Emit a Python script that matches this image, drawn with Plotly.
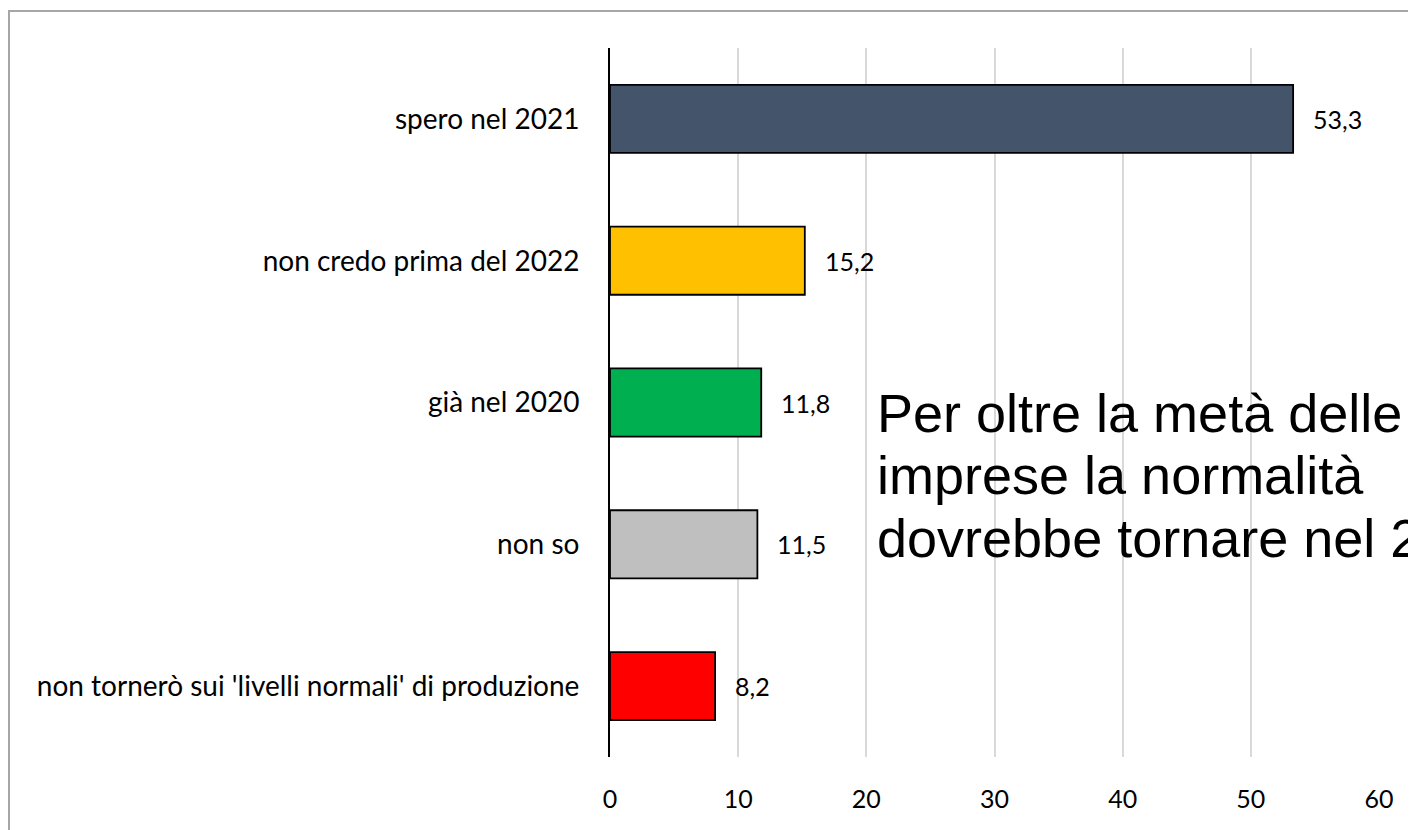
import plotly.graph_objects as go

categories = [
    "spero nel 2021",
    "non credo prima del 2022",
    "già nel 2020",
    "non so",
    "non tornerò sui 'livelli normali' di produzione",
]
values = [53.3, 15.2, 11.8, 11.5, 8.2]
colors = ["#44546A", "#FFC000", "#00B050", "#BFBFBF", "#FF0000"]
note_lines = [
    "Per oltre la metà delle",
    "imprese la normalità",
    "dovrebbe tornare nel 2021",
]

# the page body adds an 8px margin, so the figure is 8px smaller and shifted
OFF = 8
W, H = 1416 - OFF, 830 - OFF
L, R, T, B = 610 - OFF, 37, 48 - OFF, 73
pw, ph = W - L - R, H - T - B


def px_x(p):
    return (p - OFF - L) / pw


def px_y(p):
    return 1 - (p - OFF - T) / ph


fig = go.Figure(
    go.Bar(
        x=values,
        y=categories,
        orientation="h",
        marker=dict(color=colors, line=dict(color="black", width=1.8)),
        hoverinfo="x+y",
    )
)

# data labels with comma decimal, offset right of each bar end
for cat, v in zip(categories, values):
    fig.add_annotation(
        x=v, y=cat, xref="x", yref="y",
        text=f"{v:.1f}".replace(".", ","),
        showarrow=False, xanchor="left", xshift=18,
        font=dict(family="Lato", size=25, color="black"),
    )

# big note text, one annotation per line to keep Excel-like tight line spacing
for i, line in enumerate(note_lines):
    fig.add_annotation(
        x=px_x(875), y=px_y(413 + i * 62.5), xref="paper", yref="paper",
        text=line, showarrow=False, xanchor="left", yanchor="middle",
        font=dict(family="Liberation Sans, Arial", size=54, color="black"),
    )

# outer chart frame (runs past the right/bottom edge like the source image)
fig.add_shape(
    type="rect", xref="paper", yref="paper",
    x0=px_x(9), y0=px_y(900), x1=px_x(1500), y1=px_y(11),
    line=dict(color="#A6A6A6", width=2), fillcolor="rgba(0,0,0,0)",
    layer="below",
)

fig.update_xaxes(
    range=[0, 60], dtick=10, tick0=0,
    showgrid=True, gridcolor="#D9D9D9", gridwidth=2,
    zeroline=False, showline=False,
    ticks="outside", ticklen=20, tickcolor="rgba(0,0,0,0)",
    tickfont=dict(family="Lato", size=25, color="black"),
)
fig.update_yaxes(
    categoryorder="array", categoryarray=categories, autorange="reversed",
    showgrid=False, zeroline=False,
    showline=True, linecolor="black", linewidth=2,
    ticks="outside", ticklen=23, tickcolor="rgba(0,0,0,0)",
    tickfont=dict(family="Lato", size=28, color="black"),
)

fig.update_layout(
    width=W, height=H,
    margin=dict(l=L, r=R, t=T, b=B),
    paper_bgcolor="white", plot_bgcolor="white",
    bargap=0.52, showlegend=False,
)

fig.write_html("out.html")
